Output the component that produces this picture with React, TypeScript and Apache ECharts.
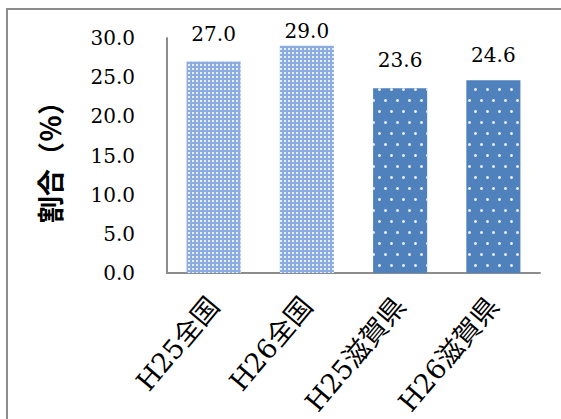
import React, { useEffect, useRef } from "react";
import * as echarts from "echarts";

const categories = ["H25全国", "H26全国", "H25滋賀県", "H26滋賀県"];
const values = [27.0, 29.0, 23.6, 24.6];
const fills = ["checker", "checker", "dots", "dots"];

const SERIF = "'DejaVu Serif', 'Liberation Serif', 'Noto Sans CJK JP', serif";

const styles: Record<string, any> = {
  checker: {
    color: "#8AACE0",
    decal: {
      symbol: "rect",
      symbolSize: 1,
      color: "rgba(255,255,255,0.8)",
      dashArrayX: [1.5, 1.5],
      dashArrayY: [1.5, 1.5],
    },
  },
  dots: {
    color: "#4F81BD",
    decal: {
      symbol: "circle",
      symbolSize: 1,
      color: "rgba(255,255,255,0.85)",
      dashArrayX: [[2.5, 8.5], [0, 5.5, 2.5, 3]],
      dashArrayY: [2.5, 7.5],
    },
  },
};

// label gap above each bar (the top label is nudged down, as in the source)
const labelGap = [18, 5, 18, 15];

export default function App() {
  const ref = useRef<HTMLDivElement>(null);
  useEffect(() => {
    if (!ref.current) return;
    const chart = echarts.init(ref.current, undefined, { renderer: "svg" });
    chart.setOption({
      animation: false,
      backgroundColor: "#ffffff",
      graphic: [
        {
          type: "rect",
          shape: { x: 7, y: 9, width: 700, height: 600 },
          style: { fill: "none", stroke: "#8c8c8c", lineWidth: 2 },
          silent: true,
        },
      ],
      grid: { left: 167, right: 21, top: 38, bottom: 146 },
      xAxis: {
        type: "category",
        data: categories,
        axisLine: { show: true, lineStyle: { color: "#8c8c8c", width: 2 } },
        axisTick: { show: false },
        axisLabel: {
          interval: 0,
          rotate: 50,
          margin: 28,
          color: "#000",
          fontSize: 27,
          fontFamily: SERIF,
        },
      },
      yAxis: {
        type: "value",
        min: 0,
        max: 30,
        interval: 5,
        name: "割合（％）",
        nameLocation: "middle",
        nameRotate: 90,
        nameGap: 104,
        nameTextStyle: {
          color: "#000",
          fontSize: 27,
          fontWeight: "bold",
          fontFamily: "'Noto Sans CJK JP', sans-serif",
        },
        axisLine: { show: true, lineStyle: { color: "#8c8c8c", width: 2 } },
        axisTick: { show: false },
        splitLine: { show: false },
        axisLabel: {
          margin: 32,
          color: "#000",
          fontSize: 20,
          fontFamily: SERIF,
          formatter: (v: number) => v.toFixed(1),
        },
      },
      series: [
        {
          type: "bar",
          barWidth: "58%",
          data: values.map((v, i) => ({
            value: v,
            itemStyle: styles[fills[i]],
            label: { distance: labelGap[i] },
          })),
          label: {
            show: true,
            position: "top",
            color: "#000",
            fontSize: 20,
            fontFamily: SERIF,
            formatter: (p: any) => Number(p.value).toFixed(1),
          },
        },
      ],
    });
    return () => chart.dispose();
  }, []);
  return (
    <div
      ref={ref}
      style={{ position: "fixed", left: 0, top: 0, width: 561, height: 419 }}
    />
  );
}
